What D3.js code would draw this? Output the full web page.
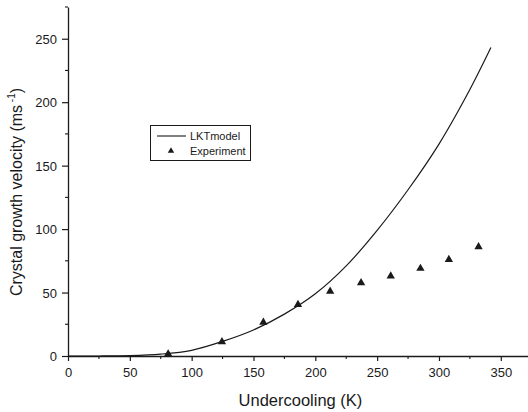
<!DOCTYPE html>
<html>
<head>
<meta charset="utf-8">
<script src="https://cdn.jsdelivr.net/npm/d3@7"></script>
<style>
  html, body { margin: 0; padding: 0; background: #fff; overflow: hidden; }
  svg { display: block; }
  text { font-family: "Liberation Sans", Arial, sans-serif; fill: #1a1a1a; }
</style>
</head>
<body>
<div id="chart"></div>
<script>
const width = 528;
const height = 412;
const margin = { top: 7, right: 0, bottom: 56, left: 68 };
const innerWidth = width - margin.left - margin.right;
const innerHeight = height - margin.top - margin.bottom;

// LKT model curve
const modelX = [0, 25, 50, 75, 100, 125, 150, 175, 200, 225, 250, 275, 300, 325, 342];
const modelY = [0, 0, 0.3, 1.5, 4.5, 11.5, 20.5, 33, 49, 71, 99, 131, 167, 210, 243];

// experiment points
const expX = [81, 124.5, 158, 186, 212, 237, 261, 285, 308, 332];
const expY = [1.6, 11.2, 26.5, 40.5, 51, 57.7, 63, 69, 76, 86];

const xTicks = [0, 50, 100, 150, 200, 250, 300, 350];
const yTicks = [0, 50, 100, 150, 200, 250];
const xMinor = [25, 75, 125, 175, 225, 275, 325];
const yMinor = [25, 75, 125, 175, 225, 275];

const ink = "#1a1a1a";

const svg = d3.select('#chart')
    .append('svg')
    .attr('width', width)
    .attr('height', height);

const g = svg.append('g')
    .attr('transform', `translate(${margin.left},${margin.top})`);

const xScale = d3.scaleLinear().domain([0, 372]).range([0, innerWidth]);
const yScale = d3.scaleLinear().domain([0, 275]).range([innerHeight, 0]);

// axes
const xAxis = d3.axisBottom(xScale).tickValues(xTicks).tickSize(5).tickSizeOuter(0);
const yAxis = d3.axisLeft(yScale).tickValues(yTicks).tickSize(6).tickSizeOuter(0);

const gx = g.append('g')
    .attr('transform', `translate(0,${innerHeight})`)
    .call(xAxis);
const gy = g.append('g').call(yAxis);

// place tick labels without dy offsets
gx.selectAll('.tick text').attr('dy', null).attr('y', 21);
gy.selectAll('.tick text').attr('dy', null).attr('x', -11).attr('y', 4.5);

// minor ticks (lines only)
g.append('g')
    .attr('transform', `translate(0,${innerHeight})`)
    .selectAll('line')
    .data(xMinor)
    .enter()
    .append('line')
    .attr('x1', d => xScale(d)).attr('x2', d => xScale(d))
    .attr('y1', 0).attr('y2', 3)
    .attr('stroke', ink).attr('stroke-width', 1.1);
g.append('g')
    .selectAll('line')
    .data(yMinor)
    .enter()
    .append('line')
    .attr('y1', d => yScale(d)).attr('y2', d => yScale(d))
    .attr('x1', 0).attr('x2', -3)
    .attr('stroke', ink).attr('stroke-width', 1.1);

g.selectAll('.domain').attr('stroke', ink).attr('stroke-width', 1.3);
g.selectAll('.tick line').attr('stroke', ink).attr('stroke-width', 1.2);
g.selectAll('.tick text')
    .attr('font-family', '"Liberation Sans", Arial, sans-serif')
    .attr('font-size', 13)
    .attr('fill', ink);

// model curve
const model = modelX.map((x, i) => ({ x: x, y: modelY[i] }));
const line = d3.line()
    .x(d => xScale(d.x))
    .y(d => yScale(d.y))
    .curve(d3.curveCatmullRom);

g.append('path')
    .datum(model)
    .attr('d', line)
    .attr('fill', 'none')
    .attr('stroke', ink)
    .attr('stroke-width', 1.2);

// experiment triangles
const tri = d3.symbol().type(d3.symbolTriangle).size(30);
g.selectAll('.exp')
    .data(expX.map((x, i) => ({ x: x, y: expY[i] })))
    .enter()
    .append('path')
    .attr('class', 'exp')
    .attr('d', tri)
    .attr('transform', d => `translate(${xScale(d.x)},${yScale(d.y)})`)
    .attr('fill', ink);

// axis titles
svg.append('text')
    .attr('x', margin.left + xScale(188))
    .attr('y', 406)
    .attr('text-anchor', 'middle')
    .attr('font-size', 16.5)
    .text('Undercooling (K)');

const yLabel = svg.append('text')
    .attr('transform', 'translate(22,192) rotate(-90)')
    .attr('text-anchor', 'middle')
    .attr('font-size', 16);
yLabel.append('tspan').text('Crystal growth velocity (ms');
yLabel.append('tspan').attr('font-size', 10).attr('baseline-shift', '7').text(' -1');
yLabel.append('tspan').text(')');

// legend
const legend = svg.append('g');
legend.append('rect')
    .attr('x', 150.5).attr('y', 125.5)
    .attr('width', 100).attr('height', 35)
    .attr('fill', 'none')
    .attr('stroke', ink)
    .attr('stroke-width', 1);
legend.append('line')
    .attr('x1', 157).attr('x2', 186)
    .attr('y1', 136).attr('y2', 136)
    .attr('stroke', ink).attr('stroke-width', 1.1);
legend.append('text')
    .attr('x', 190).attr('y', 140)
    .attr('font-size', 11)
    .text('LKTmodel');
legend.append('path')
    .attr('d', d3.symbol().type(d3.symbolTriangle).size(18))
    .attr('transform', 'translate(171,151)')
    .attr('fill', ink);
legend.append('text')
    .attr('x', 190).attr('y', 155)
    .attr('font-size', 11)
    .text('Experiment');
</script>
</body>
</html>
